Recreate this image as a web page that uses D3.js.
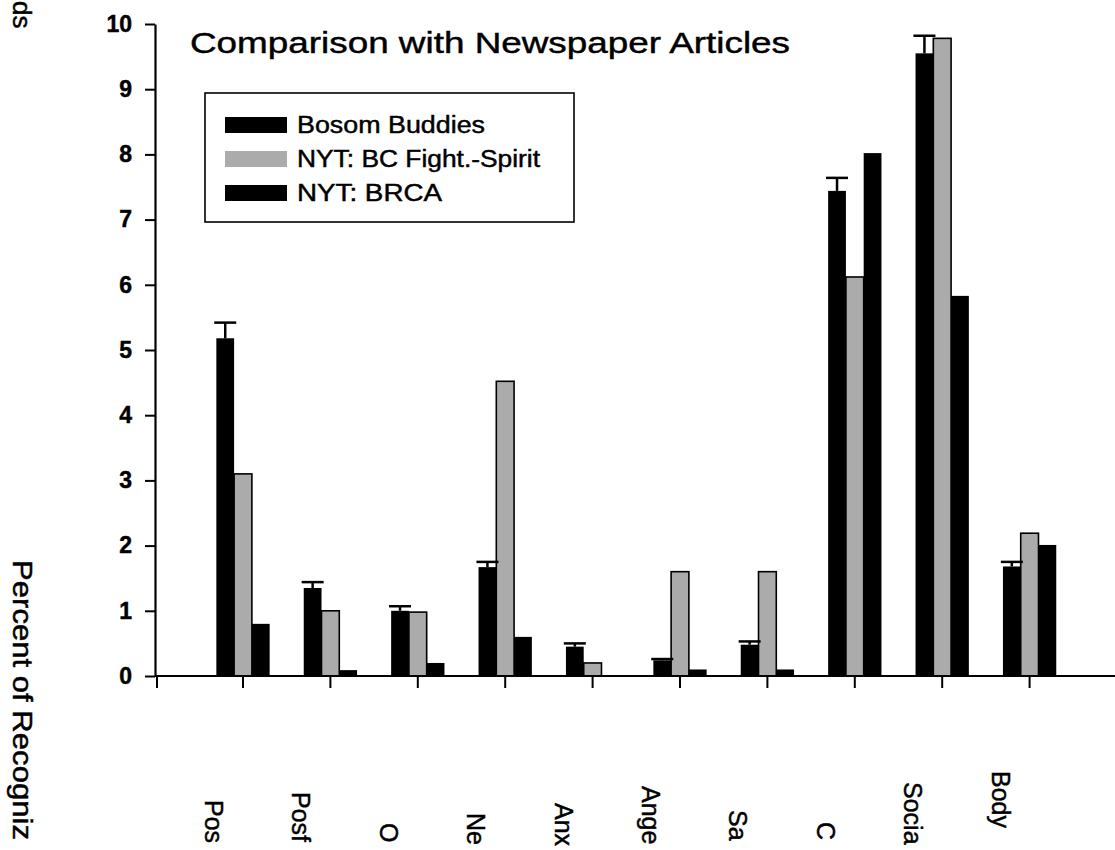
<!DOCTYPE html>
<html>
<head>
<meta charset="utf-8">
<script src="https://cdn.jsdelivr.net/npm/d3@7"></script>
<style>
  html, body { margin: 0; padding: 0; background: #fff; overflow: hidden; }
  svg { display: block; }
  text { font-family: "Liberation Sans", Arial, sans-serif; fill: #000; stroke: #000; stroke-width: 0.45px; }
</style>
</head>
<body>
<svg id="chart" width="1115" height="850"></svg>
<script>
// ---- data ----
const categories = ["Pos", "Posf", "O", "Ne", "Anx", "Ange", "Sa", "C", "Socia", "Body"];
const seriesNames = ["Bosom Buddies", "NYT: BC Fight.-Spirit", "NYT: BRCA"];
const bosomBuddies = [5.18, 1.35, 1.0, 1.67, 0.45, 0.24, 0.48, 7.44, 9.55, 1.68];
const bosomErrorTop = [5.42, 1.44, 1.07, 1.75, 0.5, 0.26, 0.53, 7.64, 9.82, 1.75];
const nytFightSpirit = [3.1, 1.0, 0.98, 4.52, 0.2, 1.6, 1.6, 6.12, 9.78, 2.19];
const nytBRCA = [0.8, 0.09, 0.2, 0.6, 0, 0.1, 0.1, 8.02, 5.83, 2.01];
const yTicks = [0, 1, 2, 3, 4, 5, 6, 7, 8, 9, 10];
const titleText = "Comparison with Newspaper Articles";
const yTitleText = "Percent of Recogniz";
const yTitleTail = "ds";

const seriesValues = [bosomBuddies, nytFightSpirit, nytBRCA];
const seriesFill = ["#000000", "#ababab", "#000000"];

const svg = d3.select("#chart");

// ---- scales ----
const y = d3.scaleLinear().domain([0, 10]).range([676, 24]);
const x0 = d3.scaleBand().domain(categories).range([199.3, 1073.3])
  .paddingInner(0.39).paddingOuter(0.195);
const x1 = d3.scaleBand().domain(seriesNames).range([0, x0.bandwidth()]);

const rows = categories.map((c, i) => ({
  cat: c,
  vals: seriesNames.map((s, j) => ({ series: s, j, v: seriesValues[j][i] })),
  err: bosomErrorTop[i],
  bb: bosomBuddies[i]
}));

// ---- bars ----
const g = svg.append("g");
const groups = g.selectAll("g.grp").data(rows).join("g")
  .attr("class", "grp")
  .attr("transform", d => `translate(${x0(d.cat)},0)`);

groups.selectAll("rect").data(d => d.vals.filter(v => v.v > 0)).join("rect")
  .attr("x", d => x1(d.series))
  .attr("width", x1.bandwidth())
  .attr("y", d => y(d.v))
  .attr("height", d => y(0) - y(d.v))
  .attr("fill", d => seriesFill[d.j])
  .attr("stroke", "#000")
  .attr("stroke-width", d => d.j === 1 ? 1.6 : 0);

// ---- error bars (Bosom Buddies, upper only) ----
const cx = x1(seriesNames[0]) + x1.bandwidth() / 2;
groups.append("line")
  .attr("x1", cx).attr("x2", cx)
  .attr("y1", d => y(d.bb)).attr("y2", d => y(d.err))
  .attr("stroke", "#000").attr("stroke-width", 2.5);
groups.append("line")
  .attr("x1", cx - 11).attr("x2", cx + 11)
  .attr("y1", d => y(d.err)).attr("y2", d => y(d.err))
  .attr("stroke", "#000").attr("stroke-width", 2.5);

// ---- y axis ----
const yAxis = d3.axisLeft(y).tickValues(yTicks).tickSize(10).tickSizeOuter(0).tickPadding(13);
const yg = svg.append("g").attr("transform", "translate(155,0)").call(yAxis);
yg.select(".domain").attr("stroke", "#000").attr("stroke-width", 2.2);
yg.selectAll(".tick line").attr("stroke", "#000").attr("stroke-width", 2);
yg.selectAll(".tick text")
  .attr("font-size", 23).attr("font-weight", "bold")
  .attr("font-family", "'Liberation Sans', Arial, sans-serif")
  .attr("fill", "#000");

// ---- x axis ----
svg.append("line").attr("x1", 155).attr("x2", 1115)
  .attr("y1", y(0)).attr("y2", y(0)).attr("stroke", "#000").attr("stroke-width", 2.2);
const xAxis = d3.axisBottom(x0).tickSize(12).tickSizeOuter(0).tickFormat("");
const xg = svg.append("g").attr("transform", `translate(0,${y(0)})`).call(xAxis);
xg.select(".domain").remove();
xg.selectAll(".tick line").attr("stroke", "#000").attr("stroke-width", 2);
svg.append("line").attr("x1", 157).attr("x2", 157)
  .attr("y1", y(0)).attr("y2", y(0) + 12).attr("stroke", "#000").attr("stroke-width", 2);

// x category labels (rotated, reading downward)
const labelStartY = [800, 792, 823, 813, 803, 786, 810, 822, 782, 771];
svg.append("g").selectAll("text").data(categories).join("text")
  .attr("transform", (d, i) => `translate(${x0(d) + x0.bandwidth() / 2 - 38},${labelStartY[i]}) rotate(90)`)
  .attr("font-size", 25)
  .text(d => d);

// ---- y axis title (rotated) ----
svg.append("text")
  .attr("transform", "translate(13,560) rotate(90)")
  .attr("font-size", 28)
  .attr("textLength", 280).attr("lengthAdjust", "spacingAndGlyphs")
  .text(yTitleText);
svg.append("text")
  .attr("transform", "translate(13,1) rotate(90)")
  .attr("font-size", 26)
  .text(yTitleTail);

// ---- title ----
svg.append("text")
  .attr("x", 190).attr("y", 53)
  .attr("font-size", 30)
  .attr("textLength", 600).attr("lengthAdjust", "spacingAndGlyphs")
  .text(titleText);

// ---- legend ----
const legend = svg.append("g");
legend.append("rect").attr("x", 205).attr("y", 93).attr("width", 369).attr("height", 129)
  .attr("fill", "#fff").attr("stroke", "#000").attr("stroke-width", 1.6);
const legendRowY = [117, 151, 185];
const legendTextLen = [188, 243, 145];
const lg = legend.selectAll("g").data(seriesNames).join("g");
lg.append("rect")
  .attr("x", 225).attr("y", (d, i) => legendRowY[i])
  .attr("width", 62).attr("height", 16)
  .attr("fill", (d, i) => seriesFill[i]);
lg.append("text")
  .attr("x", 297).attr("y", (d, i) => legendRowY[i] + 16)
  .attr("font-size", 23)
  .attr("textLength", (d, i) => legendTextLen[i]).attr("lengthAdjust", "spacingAndGlyphs")
  .text(d => d);
</script>
</body>
</html>
